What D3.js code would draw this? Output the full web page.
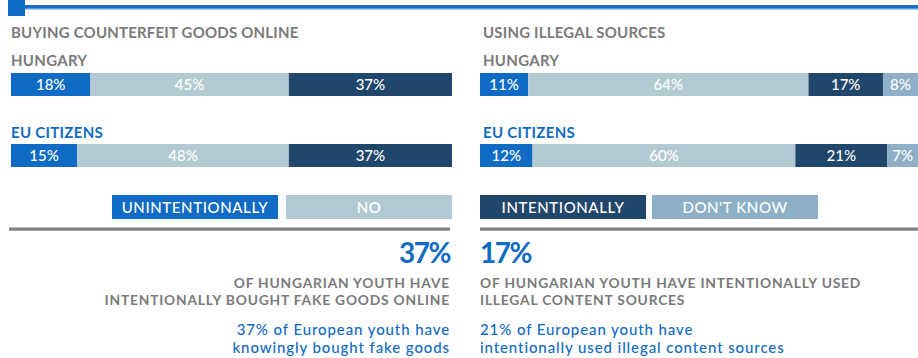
<!DOCTYPE html>
<html>
<head>
<meta charset="utf-8">
<script src="https://cdn.jsdelivr.net/npm/d3@7"></script>
<style>
  html, body { margin: 0; padding: 0; background: #fff; }
  svg { display: block; font-family: "Lato", "Open Sans", sans-serif; }
</style>
</head>
<body>
<svg id="chart" width="918" height="358"></svg>
<script>
// Survey answers, in percent
const answerKeys = ["Unintentionally", "No", "Intentionally", "Don't know"];
const legendLabels = ["UNINTENTIONALLY", "NO", "INTENTIONALLY", "DON'T KNOW"];
const groups = ["HUNGARY", "EU CITIZENS"];

const goodsHungary = [18, 45, 37, 0];
const goodsEU = [15, 48, 37, 0];
const sourcesHungary = [11, 64, 17, 8];
const sourcesEU = [12, 60, 21, 7];

const panelTitles = ["BUYING COUNTERFEIT GOODS ONLINE", "USING ILLEGAL SOURCES"];
const headlineValues = [37, 17];
const headlineText = [
  ["OF HUNGARIAN YOUTH HAVE", "INTENTIONALLY BOUGHT FAKE GOODS ONLINE"],
  ["OF HUNGARIAN YOUTH HAVE INTENTIONALLY USED", "ILLEGAL CONTENT SOURCES"]
];
const euNotes = [
  ["37% of European youth have", "knowingly bought fake goods"],
  ["21% of European youth have", "intentionally used illegal content sources"]
];

const colors = d3.scaleOrdinal()
  .domain(answerKeys)
  .range(["#0f6bc3", "#b2cbd2", "#21466b", "#8db0c6"]);

const blue = "#0f6bc3";
const gray = "#7a7a7a";

const svg = d3.select("#chart");

// Header rule with square marker
svg.append("rect").attr("x", 25).attr("y", 5).attr("width", 893).attr("height", 3).attr("fill", "#1a6dc4");
svg.append("rect").attr("x", 25).attr("y", 8).attr("width", 893).attr("height", 1.5).attr("fill", "#5b9be0");
svg.append("rect").attr("x", 8).attr("y", 0).attr("width", 17).attr("height", 16).attr("fill", "#0f6bc3");

const panels = [
  { x0: 11, x1: 452, textX: 11, title: panelTitles[0], rows: [goodsHungary, goodsEU], align: "end", edge: 450,
    legend: [0, 1], legendX: [112, 286], ruleX: [9, 450] },
  { x0: 480, x1: 918, textX: 483, title: panelTitles[1], rows: [sourcesHungary, sourcesEU], align: "start", edge: 480,
    legend: [2, 3], legendX: [480, 652], ruleX: [480, 918] }
];

const rowY = [73, 144];
const barH = 23;
const labelY = [66, 138];

panels.forEach((p, pi) => {
  const x = d3.scaleLinear().domain([0, 100]).range([p.x0, p.x1]);
  const g = svg.append("g");

  g.append("text")
    .attr("x", p.textX).attr("y", 38)
    .attr("fill", gray).attr("font-size", 15).attr("font-weight", 700)
    .attr("letter-spacing", 0.2)
    .text(p.title);

  p.rows.forEach((vals, ri) => {
    g.append("text")
      .attr("x", p.textX).attr("y", labelY[ri])
      .attr("fill", ri === 0 ? gray : blue)
      .attr("font-size", 15).attr("font-weight", 700)
      .attr("letter-spacing", 0.3)
      .text(groups[ri]);

    const stack = d3.stack().keys(answerKeys)([Object.fromEntries(answerKeys.map((k, i) => [k, vals[i]]))]);
    const segs = stack.map(s => ({ key: s.key, v0: s[0][0], v1: s[0][1] })).filter(d => d.v1 > d.v0);

    const seg = g.selectAll(null).data(segs).enter().append("g");
    seg.append("rect")
      .attr("x", d => x(d.v0))
      .attr("y", rowY[ri])
      .attr("width", d => x(d.v1) - x(d.v0))
      .attr("height", barH)
      .attr("fill", d => colors(d.key));
    seg.append("text")
      .attr("x", d => (x(d.v0) + x(d.v1)) / 2)
      .attr("y", rowY[ri] + 17)
      .attr("text-anchor", "middle")
      .attr("fill", "#fff")
      .attr("font-size", 15)
      .attr("font-weight", 500)
      .text(d => `${d.v1 - d.v0}%`);
  });

  // Legend chips
  p.legend.forEach((li, k) => {
    const lx = p.legendX[k];
    g.append("rect").attr("x", lx).attr("y", 195).attr("width", 166).attr("height", 24)
      .attr("fill", colors(answerKeys[li]));
    g.append("text").attr("x", lx + 83).attr("y", 213)
      .attr("text-anchor", "middle").attr("fill", "#fff")
      .attr("font-size", 15).attr("font-weight", 500).attr("letter-spacing", 0.6)
      .text(legendLabels[li]);
  });

  // Divider
  g.append("rect").attr("x", p.ruleX[0]).attr("y", 227.5)
    .attr("width", p.ruleX[1] - p.ruleX[0]).attr("height", 3.2).attr("fill", "#808080");

  // Headline figure
  g.append("text").attr("x", p.edge).attr("y", 263)
    .attr("text-anchor", p.align).attr("fill", blue)
    .attr("font-size", 28).attr("font-weight", 700).attr("letter-spacing", -1.5)
    .text(`${headlineValues[pi]}%`);

  headlineText[pi].forEach((t, i) => {
    g.append("text").attr("x", p.edge).attr("y", 288 + i * 17)
      .attr("text-anchor", p.align).attr("fill", gray)
      .attr("font-size", 13.8).attr("font-weight", 700).attr("letter-spacing", 0.8)
      .text(t);
  });

  euNotes[pi].forEach((t, i) => {
    g.append("text").attr("x", p.edge).attr("y", 335 + i * 18)
      .attr("text-anchor", p.align).attr("fill", blue)
      .attr("font-size", 15).attr("font-weight", 500).attr("letter-spacing", 0.9)
      .text(t);
  });
});
</script>
</body>
</html>
